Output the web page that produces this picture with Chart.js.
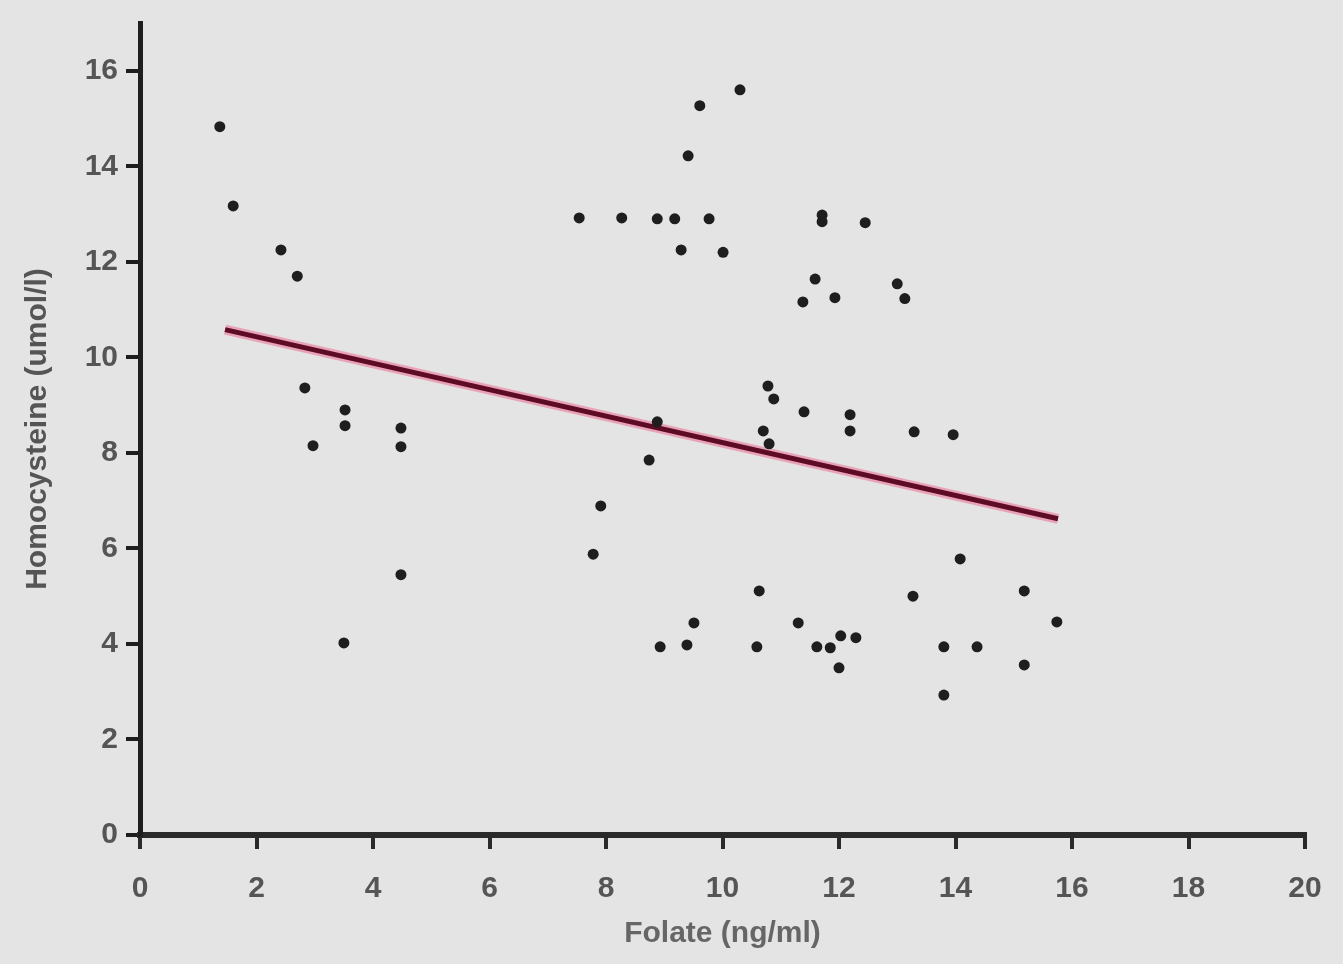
<head>
    <meta charset="UTF-8">
    <title>Folate vs Homocysteine</title>
    <script src="https://cdn.jsdelivr.net/npm/chart.js@4.4.0/dist/chart.umd.min.js"></script>
    <style>
        body { margin: 0; background: #e4e4e4; }
        #wrap { width: 1343px; height: 964px; }
    </style>
</head>
<body>
    <div id="wrap"><canvas id="scatterChart"></canvas></div>

    <script>
        // folate (ng/ml) readings, one per subject
        var folate = [1.37, 1.6, 2.42, 2.7, 2.83, 2.97, 3.52, 3.52, 3.5, 4.48, 4.48, 4.48,
            7.54, 7.78, 7.91, 8.27, 8.74, 8.88, 8.88, 8.93, 9.18, 9.29, 9.41, 9.39, 9.51,
            9.61, 9.77, 10.01, 10.3, 10.59, 10.63, 10.7, 10.78, 10.8, 10.88, 11.3, 11.38,
            11.4, 11.59, 11.62, 11.71, 11.71, 11.85, 11.93, 12.0, 12.03, 12.19, 12.19,
            12.29, 12.45, 13.0, 13.13, 13.27, 13.29, 13.8, 13.8, 13.96, 14.08, 14.37,
            15.18, 15.18, 15.74];
        // homocysteine (umol/l), same order
        var homocysteine = [14.83, 13.17, 12.25, 11.7, 9.36, 8.15, 8.9, 8.57, 4.02, 8.52, 8.13, 5.45,
            12.92, 5.88, 6.89, 12.92, 7.85, 8.65, 12.9, 3.94, 12.9, 12.25, 14.22, 3.98, 4.44,
            15.27, 12.9, 12.2, 15.6, 3.94, 5.11, 8.46, 9.4, 8.19, 9.13, 4.44, 11.16,
            8.86, 11.64, 3.94, 12.98, 12.84, 3.92, 11.25, 3.5, 4.17, 8.8, 8.46,
            4.13, 12.82, 11.54, 11.23, 5.0, 8.44, 2.93, 3.94, 8.38, 5.78, 3.94,
            5.11, 3.56, 4.46];
        // regression line end points
        var fitX = [1.46, 15.76];
        var fitY = [10.58, 6.62];

        var xTicks = [0, 2, 4, 6, 8, 10, 12, 14, 16, 18, 20];
        var yTicks = [0, 2, 4, 6, 8, 10, 12, 14, 16];

        var points = folate.map(function (x, i) { return { x: x, y: homocysteine[i] }; });
        var fitLine = fitX.map(function (x, i) { return { x: x, y: fitY[i] }; });

        var tickFont = { family: 'Liberation Sans, Arial, sans-serif', size: 30, weight: 'bold' };

        new Chart(document.getElementById('scatterChart'), {
            type: 'scatter',
            data: {
                datasets: [{
                    data: points,
                    backgroundColor: '#1e1e1e',
                    borderWidth: 0,
                    pointRadius: 5.5
                }, {
                    // dark core of the fit line
                    type: 'line',
                    data: fitLine,
                    borderColor: '#5e0c26',
                    borderWidth: 5,
                    pointRadius: 0,
                    fill: false
                }, {
                    // pink halo under it
                    type: 'line',
                    data: fitLine,
                    borderColor: 'rgba(235, 120, 155, 0.6)',
                    borderWidth: 10,
                    pointRadius: 0,
                    fill: false
                }]
            },
            options: {
                responsive: true,
                maintainAspectRatio: false,
                animation: false,
                layout: { padding: { left: 20, top: 23, right: 38, bottom: 12 } },
                plugins: { legend: { display: false }, tooltip: { enabled: false } },
                scales: {
                    x: {
                        type: 'linear',
                        min: 0,
                        max: 20,
                        afterFit: function (s) {
                            s.height = 117;
                            s.paddingLeft = 0; s.paddingRight = 0;
                        },
                        afterBuildTicks: function (s) { s.ticks = xTicks.map(function (v) { return { value: v }; }); },
                        border: { color: '#2a2a2a', width: 6 },
                        grid: { drawOnChartArea: false, color: '#2a2a2a', tickLength: 14, lineWidth: 4 },
                        ticks: { color: '#555', font: tickFont, padding: 22, maxRotation: 0 },
                        title: {
                            display: true, text: 'Folate (ng/ml)', color: '#666',
                            font: { family: 'Liberation Sans, Arial, sans-serif', size: 30, weight: 'bold' },
                            padding: { top: 0, bottom: 0 }
                        }
                    },
                    y: {
                        min: 0,
                        max: 17,
                        afterFit: function (s) {
                            s.width = 120;
                            s.paddingTop = 0; s.paddingBottom = 0;
                        },
                        afterBuildTicks: function (s) { s.ticks = yTicks.map(function (v) { return { value: v }; }); },
                        border: { color: '#1e1e1e', width: 5 },
                        grid: { drawOnChartArea: false, color: '#1e1e1e', tickLength: 14, lineWidth: 4 },
                        ticks: { color: '#555', font: tickFont, padding: 8 },
                        title: {
                            display: true, text: 'Homocysteine (umol/l)', color: '#555',
                            font: { family: 'Liberation Sans, Arial, sans-serif', size: 30, weight: 'bold' },
                            padding: { top: 0, bottom: 0 }
                        }
                    }
                }
            }
        });
    </script>
</body>
